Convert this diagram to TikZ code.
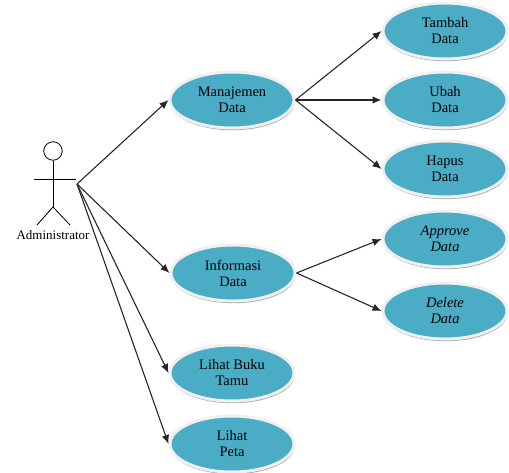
\documentclass[tikz,border=0pt]{standalone}
\usepackage{fontspec}
\setmainfont{Liberation Serif}
\usetikzlibrary{shapes.geometric,shadows,arrows.meta}
\definecolor{usecaseblue}{RGB}{75,172,198}
\tikzset{
  usecase/.style={ellipse, fill=usecaseblue, draw=black!6, line width=3pt, inner sep=0pt,
    minimum width=124pt, minimum height=56pt, align=center, font=\fontsize{14.5}{16}\selectfont,
    drop shadow={shadow xshift=0.6pt, shadow yshift=-2.2pt, fill=black!45, opacity=0.8}},
  stickman/.style={draw=black, line width=0.8pt},
  usearrow/.style={-{Latex[length=9pt,width=7.5pt]}, draw=black!85, line width=1.1pt}
}
\begin{document}
\begin{tikzpicture}[x=1pt,y=-1pt]
  \useasboundingbox (0,0) rectangle (509,472);

  % actor
  \node[circle, stickman, minimum size=18.5pt, inner sep=0pt] (head) at (53,151) {};
  \coordinate (hip) at (53,207);
  \coordinate (armleft) at (34,179);
  \coordinate (armright) at (76,179);
  \coordinate (footleft) at (37,225);
  \coordinate (footright) at (70,225);
  \draw[stickman] (head.south) -- (hip);
  \draw[stickman] (armleft) -- (armright);
  \draw[stickman] (footleft) -- (hip) -- (footright);
  \node[font=\fontsize{13}{15}\selectfont, inner sep=0pt] (admin) at (53,235) {Administrator};
  \coordinate (hand) at (77,184);

  % use cases
  \node[usecase] (manajemen) at (232,100) {Manajemen\\Data};
  \node[usecase] (informasi) at (233,273) {Informasi\\Data};
  \node[usecase] (bukutamu) at (232,373) {Lihat Buku\\Tamu};
  \node[usecase] (peta) at (232,444) {Lihat\\Peta};
  \node[usecase] (tambah) at (445,31) {Tambah\\Data};
  \node[usecase] (ubah) at (445,100) {Ubah\\Data};
  \node[usecase] (hapus) at (445,169) {Hapus\\Data};
  \node[usecase] (approve) at (445,239) {\itshape Approve\\\itshape Data};
  \node[usecase] (delete) at (445,311) {\itshape Delete\\\itshape Data};

  % connectors
  \draw[usearrow] (hand) -- (manajemen.west);
  \draw[usearrow] (hand) -- (informasi.west);
  \draw[usearrow] (hand) -- (bukutamu.west);
  \draw[usearrow] (hand) -- (peta.west);
  \draw[usearrow] (manajemen.east) -- (tambah.west);
  \draw[usearrow] (manajemen.east) -- (ubah.west);
  \draw[usearrow] (manajemen.east) -- (hapus.west);
  \draw[usearrow] (informasi.east) -- (approve.west);
  \draw[usearrow] (informasi.east) -- (delete.west);
\end{tikzpicture}
\end{document}
